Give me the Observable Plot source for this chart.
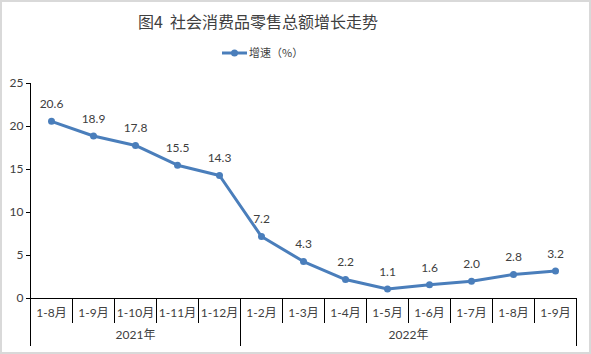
<!DOCTYPE html>
<html><head><meta charset="utf-8">
<script src="https://cdn.jsdelivr.net/npm/d3@7"></script>
<script src="https://cdn.jsdelivr.net/npm/@observablehq/plot@0.6"></script>
<style>
body{margin:0;background:#fff;}
#wrap{position:relative;width:591px;height:354px;overflow:hidden;background:#fff;font-family:Lato,"Noto Sans CJK SC",sans-serif;color:#404040}
#frame{position:absolute;left:0;top:0;width:591px;height:354px;border:2px solid #d9d9d9;box-sizing:border-box;pointer-events:none}
#title{position:absolute;top:9px;left:138px;font-size:16px;line-height:24px;white-space:nowrap;font-family:"Noto Sans CJK SC",sans-serif;color:#404040}
#legend{position:absolute;top:44px;left:0;width:591px;height:20px}
#chart{position:absolute;top:70px;left:0}
</style></head>
<body>
<div id="wrap">
  <div id="title">图4&nbsp;&nbsp;社会消费品零售总额增长走势</div>
  <svg id="legend" width="591" height="20"></svg>
  <div id="chart"></div>
  <div id="frame"></div>
</div>
<script>
const months2021 = ["1-8月","1-9月","1-10月","1-11月","1-12月"];
const months2022 = ["1-2月","1-3月","1-4月","1-5月","1-6月","1-7月","1-8月","1-9月"];
const years = ["2021年","2022年"];
const values = [20.6,18.9,17.8,15.5,14.3,7.2,4.3,2.2,1.1,1.6,2.0,2.8,3.2];
const seriesName = "增速（%）";
const yTicks = [0,5,10,15,20,25];

const months = months2021.concat(months2022);
const data = values.map((v,i)=>({i, pos:i+0.5, v, m:months[i]}));
const n = months.length;
const yearBounds = [0, months2021.length, n];
const yearCenters = [months2021.length/2, months2021.length + months2022.length/2];
const innerBounds = d3.range(1, n).filter(b => !yearBounds.includes(b));
const color = "#4a7ebb";
const ink = "#404040";
const font = 'Lato, "Noto Sans CJK SC", sans-serif';

// legend
const lg = d3.select("#legend");
lg.append("line").attr("x1",222).attr("x2",247).attr("y1",9).attr("y2",9).attr("stroke",color).attr("stroke-width",3);
lg.append("circle").attr("cx",234.5).attr("cy",9).attr("r",3.5).attr("fill",color);
lg.append("text").attr("x",249).attr("y",9).attr("dy","0.35em").attr("font-size",11).attr("fill",ink)
  .attr("font-family",'"Noto Sans CJK SC", sans-serif').text(seriesName);

const chart = Plot.plot({
  width: 591,
  height: 284,
  marginLeft: 30,
  marginRight: 15,
  marginTop: 13,
  marginBottom: 56,
  style: {fontFamily: font, fontSize: "12px", color: ink, background: "transparent", overflow: "visible"},
  x: {type: "linear", domain: [0, n], axis: null},
  y: {domain: [0, 25], axis: null},
  marks: [
    Plot.axisY(yTicks, {tickSize: 4, tickPadding: 3, label: null, stroke: "#000", fill: ink, fontSize: 12}),
    Plot.ruleX([0], {y1: 0, y2: 25, stroke: "#000"}),
    Plot.ruleY([0], {x1: 0, x2: n, stroke: "#000"}),
    Plot.axisX(innerBounds, {tickSize: 25, tickFormat: () => "", label: null, stroke: "#000"}),
    Plot.axisX(yearBounds, {tickSize: 48, tickFormat: () => "", label: null, stroke: "#000"}),
    Plot.axisX(data.map(d=>d.pos), {tickSize: 0, tickPadding: 10, label: null, fill: ink, fontSize: 12,
      tickFormat: d => months[Math.floor(d)]}),
    Plot.axisX(yearCenters, {tickSize: 0, tickPadding: 32, label: null, fill: ink, fontSize: 12,
      tickFormat: d => years[yearCenters.indexOf(d)]}),
    Plot.line(data, {x: "pos", y: "v", stroke: color, strokeWidth: 3, strokeLinejoin: "round"}),
    Plot.dot(data, {x: "pos", y: "v", r: 3.5, fill: color, stroke: "none"}),
    Plot.text(data, {x: "pos", y: "v", text: d => d.v.toFixed(1), dy: -17, fill: ink, fontSize: 12})
  ]
});
document.getElementById("chart").appendChild(chart);
</script>
</body></html>
